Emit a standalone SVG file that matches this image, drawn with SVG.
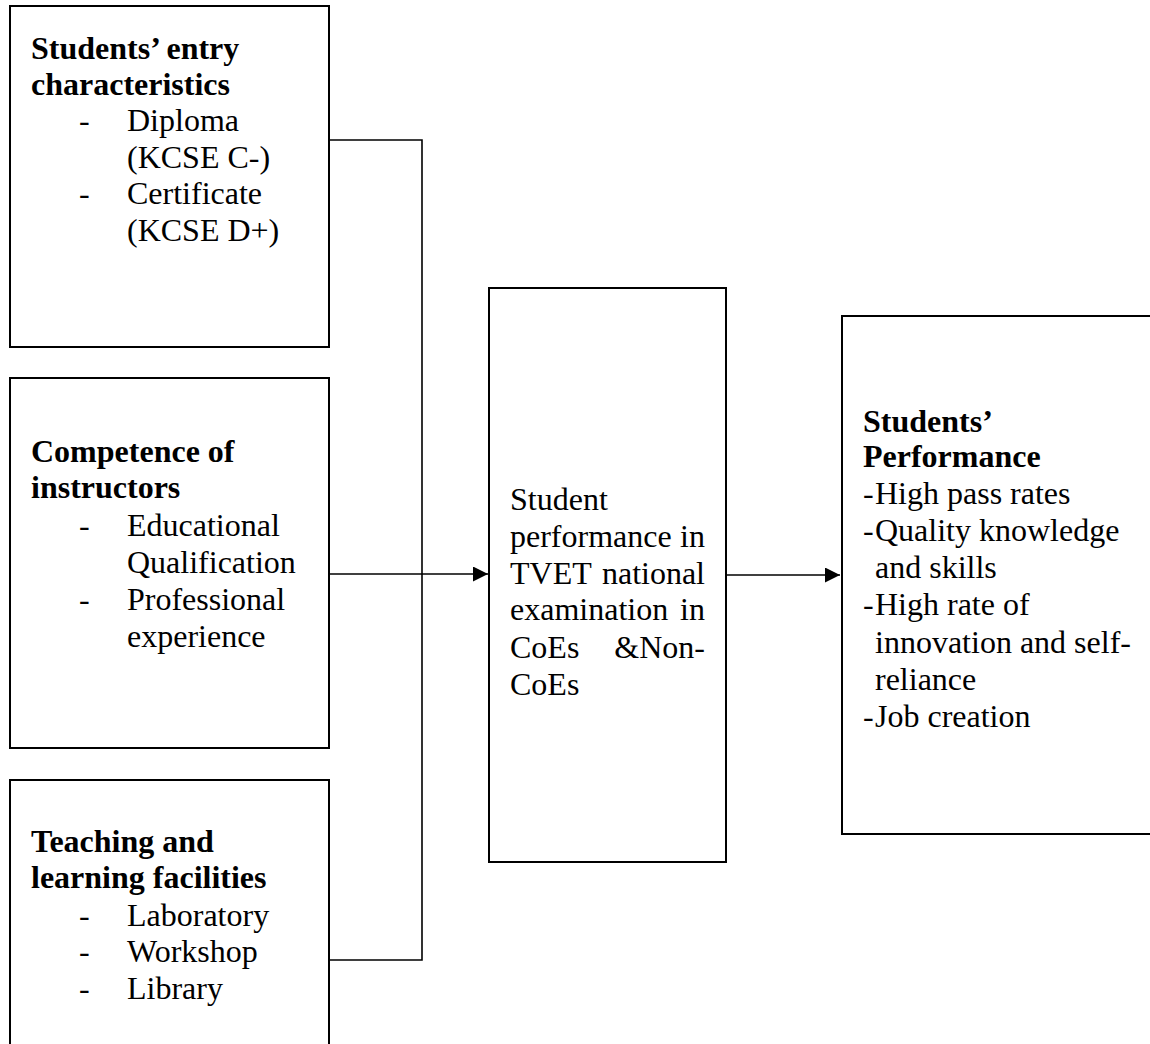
<svg xmlns="http://www.w3.org/2000/svg" width="1150" height="1044" viewBox="0 0 1150 1044">
<defs>
<style>
.box{fill:#fff;stroke:#000;stroke-width:2}
.t{font-family:"Liberation Serif","Times New Roman",serif;font-size:32px;fill:#000}
.b{font-weight:bold}
.e{text-anchor:end}
.c{fill:none;stroke:#000;stroke-width:1.6}
</style>
<marker id="ah" markerWidth="15" markerHeight="15" refX="15" refY="7.5" orient="auto" markerUnits="userSpaceOnUse">
<path d="M0,0 L15,7.5 L0,15 Z" fill="#000"/>
</marker>
</defs>
<rect width="1150" height="1044" fill="#fff"/>
<g id="connectors">
<polyline class="c" points="329,140 422,140 422,960 329,960"/>
<line class="c" x1="329" y1="574" x2="488" y2="574" marker-end="url(#ah)"/>
<line class="c" x1="726" y1="575" x2="840" y2="575" marker-end="url(#ah)"/>
</g>
<g id="entry">
<rect class="box" x="10" y="6" width="319" height="341"/>
<text class="t b" x="31" y="59">Students’ entry</text>
<text class="t b" x="31" y="95">characteristics</text>
<text class="t" x="79" y="131">-</text><text class="t" x="127" y="131">Diploma</text>
<text class="t" x="127" y="168">(KCSE C-)</text>
<text class="t" x="79" y="204">-</text><text class="t" x="127" y="204">Certificate</text>
<text class="t" x="127" y="241">(KCSE D+)</text>
</g>
<g id="competence">
<rect class="box" x="10" y="378" width="319" height="370"/>
<text class="t b" x="31" y="462">Competence of</text>
<text class="t b" x="31" y="498">instructors</text>
<text class="t" x="79" y="536">-</text><text class="t" x="127" y="536">Educational</text>
<text class="t" x="127" y="573">Qualification</text>
<text class="t" x="79" y="610">-</text><text class="t" x="127" y="610">Professional</text>
<text class="t" x="127" y="647">experience</text>
</g>
<g id="facilities">
<rect class="box" x="10" y="780" width="319" height="280"/>
<text class="t b" x="31" y="852">Teaching and</text>
<text class="t b" x="31" y="888">learning facilities</text>
<text class="t" x="79" y="926">-</text><text class="t" x="127" y="926">Laboratory</text>
<text class="t" x="79" y="962">-</text><text class="t" x="127" y="962">Workshop</text>
<text class="t" x="79" y="999">-</text><text class="t" x="127" y="999">Library</text>
</g>
<g id="tvet">
<rect class="box" x="489" y="288" width="237" height="574"/>
<text class="t" x="510" y="510">Student</text>
<text class="t" x="510" y="547">performance</text><text class="t e" x="705" y="547">in</text>
<text class="t" x="510" y="584">TVET</text><text class="t e" x="705" y="584">national</text>
<text class="t" x="510" y="620">examination</text><text class="t e" x="705" y="620">in</text>
<text class="t" x="510" y="658">CoEs</text><text class="t e" x="705" y="658">&amp;Non-</text>
<text class="t" x="510" y="695">CoEs</text>
</g>
<g id="performance">
<rect class="box" x="842" y="316" width="320" height="518"/>
<text class="t b" x="863" y="432">Students’</text>
<text class="t b" x="863" y="467">Performance</text>
<text class="t" x="863" y="504">-</text><text class="t" x="875" y="504">High pass rates</text>
<text class="t" x="863" y="541">-</text><text class="t" x="875" y="541">Quality knowledge</text>
<text class="t" x="875" y="578">and skills</text>
<text class="t" x="863" y="615">-</text><text class="t" x="875" y="615">High rate of</text>
<text class="t" x="875" y="653">innovation and self-</text>
<text class="t" x="875" y="690">reliance</text>
<text class="t" x="863" y="727">-</text><text class="t" x="875" y="727">Job creation</text>
</g>
</svg>
